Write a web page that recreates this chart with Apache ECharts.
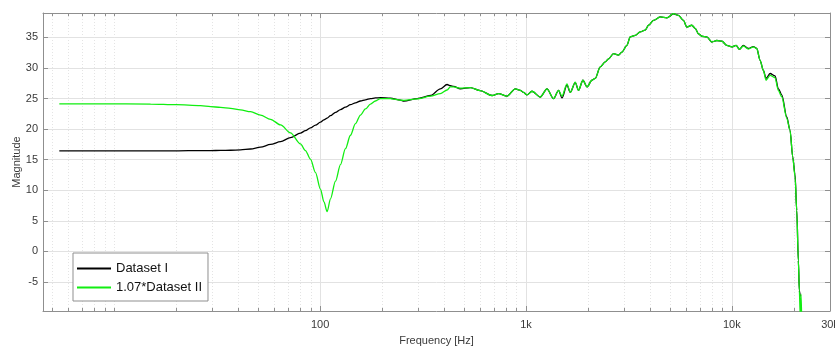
<!DOCTYPE html>
<html>
<head>
<meta charset="utf-8">
<script src="https://cdn.jsdelivr.net/npm/echarts@6/dist/echarts.min.js"></script>
<style>html,body{margin:0;padding:0;background:#fff;}#c{width:835px;height:347px;}</style>
</head>
<body>
<div id="c"></div>
<script>
const freq = [5.4, 8.6, 15, 20,
  26.2, 29.35, 32.8, 36.7, 41.0, 45.9, 51.3, 57.4, 64.2, 71.7, 80.2, 84.8, 89.7, 94.9, 100.3, 104.3, 108.1, 112.2, 118.7, 125.5, 132.7, 140.3, 148.4, 156.9, 165.9, 175.5, 185.5, 196.2, 219.4, 245.4,
  255, 296, 343.1, 383.7, 413.5, 429, 445.2, 479.8, 536.5, 600.1, 683.9, 736.2, 808.8, 887.6, 938.3, 973.5, 1011, 1069, 1173, 1265, 1361, 1440, 1496, 1581, 1641, 1735, 1800, 1891, 1978, 2091, 2170, 2295, 2427, 2518, 2663, 2816, 2924, 3093, 3208, 3393, 3588, 3794, 3937, 4164, 4487, 4837, 5207, 5506, 5821, 6047, 6393, 6634, 6886, 7151, 7559, 7996, 8455, 8942, 9456, 10000, 10493, 10888, 11384, 12036, 12731, 13223, 13721, 14236, 14672, 15346, 16227, 16837, 17490, 18493, 19187, 19776, 20292, 20681, 21055, 21293, 21500, 21700, 21850];

const datasetI = [16.45, 16.45, 16.45, 16.45,
  16.5, 16.5, 16.52, 16.55, 16.6, 16.75, 17.05, 17.5, 17.95, 18.6, 19.35, 19.75, 20.2, 20.65, 21.15, 21.5, 21.8, 22.2, 22.75, 23.2, 23.6, 24.0, 24.3, 24.6, 24.8, 25.0, 25.1, 25.15, 25.05, 24.75,
  24.6, 25.0, 25.5, 26.6, 27.3, 27.1, 27.0, 26.6, 26.8, 26.3, 25.5, 25.8, 25.4, 26.6, 26.35, 26.0, 25.6, 26.2, 25.25, 26.6, 25.0, 26.35, 25.1, 27.2, 26.0, 27.6, 26.35, 28.0, 26.9, 28.0, 28.3, 30.2, 31.0, 31.5, 32.35, 32.1, 32.6, 33.7, 35.1, 35.35, 35.9, 36.2, 37.0, 37.8, 38.35, 38.2, 38.85, 38.6, 37.8, 36.7, 37.0, 36.5, 35.6, 35.2, 35.1, 34.25, 34.5, 34.4, 33.7, 33.45, 33.7, 33.05, 33.7, 33.2, 33.5, 33.2, 31.25, 29.6, 28.3, 29.1, 28.7, 26.6, 25.6, 22.0, 19.8, 15.4, 12.5, 6.7, -1.5, -6.4, -7.4, null, null];

const datasetII = [24.15, 24.15, 24.1, 24.0,
  23.85, 23.7, 23.55, 23.4, 23.15, 22.85, 22.3, 21.6, 20.7, 19.4, 17.6, 16.5, 15.1, 12.9, 10.2, 8.1, 6.5, 8.6, 11.5, 14.2, 16.8, 19.0, 20.9, 22.3, 23.3, 24.1, 24.6, 25.0, 25.0, 24.75,
  24.7, 24.95, 25.4, 25.8, 26.4, 26.9, 26.9, 26.7, 26.8, 26.3, 25.5, 25.8, 25.4, 26.6, 26.35, 26.0, 25.6, 26.2, 25.25, 26.6, 25.0, 26.35, 25.4, 27.4, 26.0, 27.7, 26.35, 28.0, 26.9, 28.0, 28.3, 30.2, 31.0, 31.5, 32.35, 32.1, 32.6, 33.7, 35.1, 35.35, 35.9, 36.2, 37.0, 37.8, 38.35, 38.2, 38.9, 38.6, 37.8, 36.7, 37.0, 36.5, 35.6, 35.2, 35.1, 34.25, 34.5, 34.4, 33.7, 33.45, 33.7, 33.05, 33.6, 33.1, 33.45, 33.2, 31.25, 29.6, 28.0, 28.8, 28.4, 26.3, 25.3, 21.8, 19.8, 15.4, 12.2, 6.7, -1.5, -6.4, -10.5, -7.0, -11];

const majorFreqs = [100, 1000, 10000, 30000];
const majorLabels = ['100', '1k', '10k', '30k'];
const minorFreqs = [5, 6, 7, 8, 9, 10, 20, 30, 40, 50, 60, 70, 80, 90, 200, 300, 400, 500, 600, 700, 800, 900, 2000, 3000, 4000, 5000, 6000, 7000, 8000, 9000, 20000];
const yTicks = [-5, 0, 5, 10, 15, 20, 25, 30, 35];
const xRange = [4.5, 30000];
const yRange = [-9.75, 39];

const lg = Math.log10;
const xMin = lg(xRange[0]), xMax = lg(xRange[1]);
const majorVals = majorFreqs.map(lg);
const minorVals = minorFreqs.map(lg);
const font = 'Liberation Sans, Arial, Helvetica, sans-serif';
const frameColor = '#8f8f8f';
const textColor = '#3a3a3a';

function xAxisDef(pos, vals, isMajor, showLabel) {
  return {
    type: 'value', min: xMin, max: xMax, position: pos,
    axisLine: { show: isMajor, onZero: false, lineStyle: { color: frameColor, width: 1 } },
    axisTick: { show: true, inside: true, length: isMajor ? 5 : 3, customValues: vals, lineStyle: { color: frameColor } },
    axisLabel: showLabel ? {
      show: true, customValues: vals, margin: 8, color: textColor, fontSize: 11, fontFamily: font,
      formatter: function (v) {
        const i = majorVals.findIndex(m => Math.abs(m - v) < 1e-6);
        return i >= 0 ? majorLabels[i] : '';
      }
    } : { show: false },
    splitLine: pos === 'bottom' ? {
      show: true,
      lineStyle: isMajor ? { color: '#e2e2e2', width: 1 } : { color: '#e4e4e4', width: 1, type: [1, 2] }
    } : { show: false },
    name: showLabel ? 'Frequency [Hz]' : '',
    nameLocation: 'middle', nameGap: 24, nameMoveOverlap: false,
    nameTextStyle: { color: textColor, fontSize: 11, fontFamily: font }
  };
}

function yAxisDef(pos, showLabel) {
  return {
    type: 'value', min: yRange[0], max: yRange[1], position: pos,
    axisLine: { show: true, onZero: false, lineStyle: { color: frameColor, width: 1 } },
    axisTick: { show: true, inside: true, length: 5, customValues: yTicks, lineStyle: { color: frameColor } },
    axisLabel: showLabel ? { show: true, customValues: yTicks, margin: 5, color: textColor, fontSize: 11, fontFamily: font } : { show: false },
    splitLine: showLabel ? { show: true, lineStyle: { color: '#e2e2e2', width: 1 } } : { show: false },
    name: showLabel ? 'Magnitude' : '',
    nameLocation: 'middle', nameGap: 21, nameMoveOverlap: false,
    nameTextStyle: { color: textColor, fontSize: 11, fontFamily: font }
  };
}

const chart = echarts.init(document.getElementById('c'), null, { renderer: 'canvas' });
chart.setOption({
  animation: false,
  backgroundColor: '#fff',
  textStyle: { fontFamily: font },
  grid: { left: 43, right: 5, top: 13, bottom: 36, containLabel: false, outerBoundsMode: 'none' },
  xAxis: [
    xAxisDef('bottom', majorVals, true, true),
    xAxisDef('bottom', minorVals, false, false),
    xAxisDef('top', majorVals, true, false),
    xAxisDef('top', minorVals, false, false)
  ],
  yAxis: [yAxisDef('left', true), yAxisDef('right', false)],
  legend: {
    orient: 'vertical', left: 73, top: 253,
    padding: [8, 6, 6, 4], itemGap: 4, itemWidth: 34, itemHeight: 2, icon: 'rect',
    backgroundColor: '#fff', borderColor: '#8f8f8f', borderWidth: 1, borderRadius: 0,
    textStyle: { color: '#111', fontSize: 13, fontFamily: font, lineHeight: 15 },
    data: ['Dataset I', '1.07*Dataset II']
  },
  series: [
    {
      name: 'Dataset I', type: 'line', xAxisIndex: 0, yAxisIndex: 0,
      data: freq.map((f, i) => [lg(f), datasetI[i]]),
      showSymbol: false, symbol: 'none', clip: true, smooth: 0.3, smoothMonotone: 'x',
      lineStyle: { color: '#000', width: 1.3 }, itemStyle: { color: '#000' }
    },
    {
      name: '1.07*Dataset II', type: 'line', xAxisIndex: 0, yAxisIndex: 0,
      data: freq.map((f, i) => [lg(f), datasetII[i]]),
      showSymbol: false, symbol: 'none', clip: true, smooth: 0.3, smoothMonotone: 'x',
      lineStyle: { color: '#11ee11', width: 1.3 }, itemStyle: { color: '#11ee11' }
    }
  ]
});
</script>
</body>
</html>
